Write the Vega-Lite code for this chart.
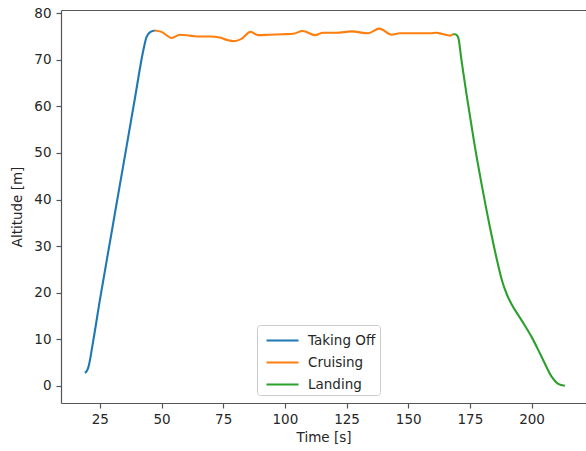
{
  "$schema": "https://vega.github.io/schema/vega-lite/v6.json",
  "autosize": {"type": "none"},
  "padding": {"left": 61, "top": 10, "right": 0, "bottom": 48},
  "width": 525,
  "height": 393,
  "background": "white",
  "config": {
    "view": {"stroke": null},
    "font": "DejaVu Sans",
    "axis": {
      "grid": false,
      "domainColor": "#555555",
      "domainWidth": 1.2,
      "tickColor": "#555555",
      "tickSize": 5,
      "tickWidth": 1.2,
      "labelFont": "DejaVu Sans",
      "labelFontSize": 13.5,
      "labelColor": "#262626",
      "titleFont": "DejaVu Sans",
      "titleFontSize": 13.5,
      "titleFontWeight": "normal",
      "titleColor": "#262626"
    }
  },
  "data": {
    "values": [
      {"t": 18.9, "alt": 2.8, "phase": "Taking Off"},
      {"t": 19.6, "alt": 3.1, "phase": "Taking Off"},
      {"t": 20.3, "alt": 3.9, "phase": "Taking Off"},
      {"t": 22.3, "alt": 9.6, "phase": "Taking Off"},
      {"t": 25.0, "alt": 18.4, "phase": "Taking Off"},
      {"t": 29.1, "alt": 30.9, "phase": "Taking Off"},
      {"t": 32.4, "alt": 41.0, "phase": "Taking Off"},
      {"t": 35.8, "alt": 51.3, "phase": "Taking Off"},
      {"t": 39.2, "alt": 61.7, "phase": "Taking Off"},
      {"t": 42.6, "alt": 72.0, "phase": "Taking Off"},
      {"t": 43.9, "alt": 74.9, "phase": "Taking Off"},
      {"t": 45.5, "alt": 76.0, "phase": "Taking Off"},
      {"t": 47.3, "alt": 76.3, "phase": "Taking Off"},
      {"t": 47.3, "alt": 76.3, "phase": "Cruising"},
      {"t": 50.0, "alt": 76.0, "phase": "Cruising"},
      {"t": 54.1, "alt": 74.7, "phase": "Cruising"},
      {"t": 57.4, "alt": 75.4, "phase": "Cruising"},
      {"t": 61.5, "alt": 75.2, "phase": "Cruising"},
      {"t": 65.5, "alt": 75.0, "phase": "Cruising"},
      {"t": 69.6, "alt": 75.0, "phase": "Cruising"},
      {"t": 73.6, "alt": 74.8, "phase": "Cruising"},
      {"t": 77.0, "alt": 74.2, "phase": "Cruising"},
      {"t": 79.3, "alt": 74.0, "phase": "Cruising"},
      {"t": 82.4, "alt": 74.5, "phase": "Cruising"},
      {"t": 86.1, "alt": 76.0, "phase": "Cruising"},
      {"t": 89.2, "alt": 75.3, "phase": "Cruising"},
      {"t": 93.9, "alt": 75.4, "phase": "Cruising"},
      {"t": 99.3, "alt": 75.5, "phase": "Cruising"},
      {"t": 103.4, "alt": 75.6, "phase": "Cruising"},
      {"t": 107.2, "alt": 76.2, "phase": "Cruising"},
      {"t": 112.2, "alt": 75.3, "phase": "Cruising"},
      {"t": 115.5, "alt": 75.8, "phase": "Cruising"},
      {"t": 120.9, "alt": 75.8, "phase": "Cruising"},
      {"t": 127.0, "alt": 76.1, "phase": "Cruising"},
      {"t": 133.8, "alt": 75.7, "phase": "Cruising"},
      {"t": 138.3, "alt": 76.7, "phase": "Cruising"},
      {"t": 143.3, "alt": 75.4, "phase": "Cruising"},
      {"t": 146.6, "alt": 75.7, "phase": "Cruising"},
      {"t": 152.0, "alt": 75.7, "phase": "Cruising"},
      {"t": 158.8, "alt": 75.7, "phase": "Cruising"},
      {"t": 161.5, "alt": 75.8, "phase": "Cruising"},
      {"t": 163.5, "alt": 75.6, "phase": "Cruising"},
      {"t": 166.9, "alt": 75.2, "phase": "Cruising"},
      {"t": 168.2, "alt": 75.5, "phase": "Cruising"},
      {"t": 168.2, "alt": 75.5, "phase": "Landing"},
      {"t": 169.0, "alt": 75.5, "phase": "Landing"},
      {"t": 170.2, "alt": 74.9, "phase": "Landing"},
      {"t": 171.6, "alt": 69.9, "phase": "Landing"},
      {"t": 173.6, "alt": 62.7, "phase": "Landing"},
      {"t": 176.6, "alt": 52.7, "phase": "Landing"},
      {"t": 179.7, "alt": 43.4, "phase": "Landing"},
      {"t": 183.1, "alt": 34.1, "phase": "Landing"},
      {"t": 185.8, "alt": 27.4, "phase": "Landing"},
      {"t": 188.0, "alt": 22.6, "phase": "Landing"},
      {"t": 190.0, "alt": 19.6, "phase": "Landing"},
      {"t": 191.9, "alt": 17.5, "phase": "Landing"},
      {"t": 195.9, "alt": 14.1, "phase": "Landing"},
      {"t": 200.0, "alt": 10.5, "phase": "Landing"},
      {"t": 204.1, "alt": 6.2, "phase": "Landing"},
      {"t": 208.2, "alt": 1.9, "phase": "Landing"},
      {"t": 210.8, "alt": 0.4, "phase": "Landing"},
      {"t": 213.5, "alt": 0.0, "phase": "Landing"}
    ]
  },
  "resolve": {"axis": {"x": "independent"}},
  "layer": [
    {
      "mark": {"type": "line", "strokeWidth": 2.1, "interpolate": "monotone"},
      "encoding": {
        "x": {
          "field": "t", "type": "quantitative",
          "scale": {"domain": [9.25, 222.06], "nice": false, "zero": false},
          "axis": {"title": "Time [s]", "values": [25, 50, 75, 100, 125, 150, 175, 200], "labelPadding": 4, "titlePadding": 5}
        },
        "y": {
          "field": "alt", "type": "quantitative",
          "scale": {"domain": [-3.7, 80.7], "nice": false, "zero": false},
          "axis": {"title": "Altitude [m]", "values": [0, 10, 20, 30, 40, 50, 60, 70, 80], "labelPadding": 5, "titlePadding": 9}
        },
        "color": {
          "field": "phase", "type": "nominal",
          "scale": {"domain": ["Taking Off", "Cruising", "Landing"], "range": ["#1f77b4", "#ff7f0e", "#2ca02c"]},
          "legend": {
            "title": null,
            "orient": "none",
            "legendX": 196,
            "legendY": 315,
            "symbolType": "M-1.6,0H1.6",
            "symbolStrokeWidth": 2.1,
            "symbolSize": 400,
            "symbolOffset": 10,
            "labelFont": "DejaVu Sans",
            "labelFontSize": 13.5,
            "labelColor": "#262626",
            "labelOffset": 14,
            "rowPadding": 4,
            "strokeColor": "#cccccc",
            "fillColor": "white",
            "cornerRadius": 3,
            "padding": 4
          }
        }
      }
    },
    {
      "mark": {"type": "line", "opacity": 0},
      "encoding": {
        "x": {
          "field": "t", "type": "quantitative",
          "axis": {"orient": "top", "title": null, "labels": false, "ticks": false, "domain": true}
        },
        "y": {"field": "alt", "type": "quantitative"}
      }
    }
  ]
}
